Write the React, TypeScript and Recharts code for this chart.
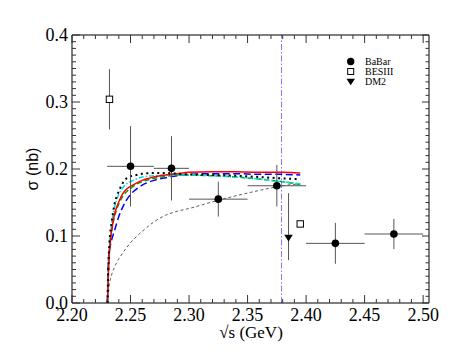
import React from 'react';
import {
  ComposedChart,
  Line,
  Scatter,
  XAxis,
  YAxis,
  ErrorBar,
} from 'recharts';

// ---------- data ----------
const curveX = [2.2303, 2.231, 2.232, 2.233, 2.234, 2.236, 2.238, 2.24, 2.243, 2.246, 2.25, 2.255, 2.26, 2.27, 2.28, 2.29, 2.3, 2.32, 2.34, 2.36, 2.38, 2.395];
const redCurve = [0, 0.04, 0.078, 0.097, 0.11, 0.13, 0.142, 0.151, 0.162, 0.169, 0.174, 0.179, 0.183, 0.188, 0.191, 0.193, 0.195, 0.196, 0.196, 0.195, 0.195, 0.194];
const greenCurve = [0, 0.04, 0.078, 0.096, 0.108, 0.127, 0.139, 0.148, 0.158, 0.165, 0.171, 0.177, 0.181, 0.186, 0.189, 0.191, 0.191, 0.19, 0.188, 0.185, 0.181, 0.177];
const cyanCurve = [0, 0.045, 0.085, 0.105, 0.12, 0.14, 0.153, 0.162, 0.171, 0.177, 0.181, 0.185, 0.188, 0.19, 0.191, 0.191, 0.191, 0.19, 0.188, 0.185, 0.181, 0.178];
const dottedCurve = [0, 0.05, 0.09, 0.11, 0.122, 0.145, 0.158, 0.167, 0.178, 0.185, 0.189, 0.191, 0.193, 0.194, 0.194, 0.193, 0.192, 0.191, 0.19, 0.188, 0.186, 0.185];
const blueCurve = [0, 0.06, 0.078, 0.088, 0.095, 0.106, 0.118, 0.129, 0.142, 0.152, 0.162, 0.17, 0.176, 0.183, 0.187, 0.19, 0.192, 0.193, 0.193, 0.192, 0.192, 0.191];
const thinCurve = [0, 0.012, 0.028, 0.037, 0.043, 0.052, 0.06, 0.066, 0.074, 0.081, 0.09, 0.099, 0.107, 0.121, 0.131, 0.137, 0.141, 0.151, 0.16, 0.168, 0.175, 0.178];

const babarX = [2.25, 2.285, 2.325, 2.375, 2.425, 2.475];
const babarY = [0.204, 0.201, 0.155, 0.175, 0.089, 0.103];
const babarEx = [0.02, 0.015, 0.025, 0.025, 0.025, 0.025];
const babarEy = [0.06, 0.048, 0.026, 0.031, 0.0305, 0.0225];

const besX = [2.232, 2.395];
const besY = [0.304, 0.118];
const besEy = [0.045, 0];

const dm2X = [2.385];
const dm2Y = [0.097];
const dm2EyLow = [0.033];
const dm2EyHigh = [0.067];

const thresholdX = [2.379, 2.379];
const thresholdY = [0, 0.4];

const xTicks = [2.2, 2.21, 2.22, 2.23, 2.24, 2.25, 2.26, 2.27, 2.28, 2.29, 2.3, 2.31, 2.32, 2.33, 2.34, 2.35, 2.36, 2.37, 2.38, 2.39, 2.4, 2.41, 2.42, 2.43, 2.44, 2.45, 2.46, 2.47, 2.48, 2.49, 2.5];
const xMajorLabels = ['2.20', '2.25', '2.30', '2.35', '2.40', '2.45', '2.50'];
const yTicks = [0, 0.01, 0.02, 0.03, 0.04, 0.05, 0.06, 0.07, 0.08, 0.09, 0.1, 0.11, 0.12, 0.13, 0.14, 0.15, 0.16, 0.17, 0.18, 0.19, 0.2, 0.21, 0.22, 0.23, 0.24, 0.25, 0.26, 0.27, 0.28, 0.29, 0.3, 0.31, 0.32, 0.33, 0.34, 0.35, 0.36, 0.37, 0.38, 0.39, 0.4];
const yMajorLabels = ['0.0', '0.1', '0.2', '0.3', '0.4'];

const legendItems = ['BaBar', 'BESIII', 'DM2'];

// ---------- built tables ----------
const curves = curveX.map((x, i) => ({
  x,
  red: redCurve[i],
  green: greenCurve[i],
  cyan: cyanCurve[i],
  dotted: dottedCurve[i],
  blue: blueCurve[i],
  thin: thinCurve[i],
}));
const threshold = thresholdX.map((x, i) => ({ x, t: thresholdY[i] }));
const babar = babarX.map((x, i) => ({ x, y: babarY[i], ex: babarEx[i], ey: babarEy[i] }));
const besiii = besX.map((x, i) => ({ x, y: besY[i], ey: besEy[i] }));
const dm2 = dm2X.map((x, i) => ({ x, y: dm2Y[i], ey: [dm2EyLow[i], dm2EyHigh[i]] }));

const W = 463;
const H = 358;
// plot area: x 72..429, y 35..303
const AX_BOTTOM_H = 30;
const AX_LEFT_W = 40;
const AX_TOP_H = 10;
const AX_RIGHT_W = 10;
const M = { top: 35 - AX_TOP_H, right: 34 - AX_RIGHT_W, bottom: 55 - AX_BOTTOM_H, left: 72 - AX_LEFT_W };
const SERIF = "'Liberation Serif', 'Times New Roman', Times, serif";
const SANS = "'Liberation Sans', Arial, Helvetica, sans-serif";
const TICK = '#333';
const serifStyle = (size: number): React.CSSProperties => ({ fontFamily: SERIF, fontSize: size });

const isXMajor = (v: number) => xMajorLabels.includes(v.toFixed(2));
const isYMajor = (v: number) => Math.abs(v * 10 - Math.round(v * 10)) < 1e-6;

const BottomTick = (p: any) => {
  const { x, y, payload } = p;
  const major = isXMajor(payload.value);
  return (
    <g>
      <line x1={x} x2={x} y1={y} y2={y - (major ? 8 : 4)} stroke={TICK} strokeWidth={1} />
      {major && (
        <text x={x} y={y + 17.5} textAnchor="middle" style={serifStyle(18)} fill="#000">
          {payload.value.toFixed(2)}
        </text>
      )}
    </g>
  );
};
const TopTick = (p: any) => {
  const { x, y, payload } = p;
  const major = isXMajor(payload.value);
  return <line x1={x} x2={x} y1={y} y2={y + (major ? 8 : 4)} stroke={TICK} strokeWidth={1} />;
};
const LeftTick = (p: any) => {
  const { x, y, payload } = p;
  const major = isYMajor(payload.value);
  const label = yMajorLabels.find((l) => Math.abs(parseFloat(l) - payload.value) < 1e-6);
  return (
    <g>
      <line x1={x} x2={x + (major ? 8 : 4)} y1={y} y2={y} stroke={TICK} strokeWidth={1} />
      {major && label && (
        <text x={x - 4} y={y + 5.8} textAnchor="end" style={serifStyle(18)} fill="#000">
          {label}
        </text>
      )}
    </g>
  );
};
const RightTick = (p: any) => {
  const { x, y, payload } = p;
  const major = isYMajor(payload.value);
  return <line x1={x} x2={x - (major ? 7 : 3.5)} y1={y} y2={y} stroke={TICK} strokeWidth={1} />;
};

const CircleShape = (p: any) => <circle cx={p.cx} cy={p.cy} r={3.8} fill="#000" />;
const SquareShape = (p: any) => (
  <rect x={p.cx - 3.2} y={p.cy - 3.2} width={6.4} height={6.4} fill="#fff" stroke="#000" strokeWidth={1} />
);
const TriangleShape = (p: any) => (
  <path d={`M${p.cx - 4.3},${p.cy - 3.3} L${p.cx + 4.3},${p.cy - 3.3} L${p.cx},${p.cy + 3.5} Z`} fill="#000" />
);

const axisCommon = {
  tickSize: 0,
  tickMargin: 0,
  interval: 0 as const,
  allowDataOverflow: true,
  tickLine: false,
  axisLine: { stroke: '#000', strokeWidth: 1 },
};

export default function App() {
  return (
    <div style={{ position: 'absolute', left: 0, top: 0, width: W, height: H, background: '#fff' }}>
      <ComposedChart width={W} height={H} margin={M}>
        <XAxis
          xAxisId={0}
          dataKey="x"
          type="number"
          domain={[2.2, 2.505]}
          ticks={xTicks}
          height={AX_BOTTOM_H}
          tick={BottomTick}
          {...axisCommon}
        />
        <XAxis
          xAxisId="top"
          orientation="top"
          dataKey="x"
          type="number"
          domain={[2.2, 2.505]}
          ticks={xTicks}
          height={AX_TOP_H}
          tick={TopTick}
          {...axisCommon}
        />
        <YAxis
          yAxisId={0}
          type="number"
          domain={[0, 0.4]}
          ticks={yTicks}
          width={AX_LEFT_W}
          tick={LeftTick}
          {...axisCommon}
        />
        <YAxis
          yAxisId="right"
          orientation="right"
          type="number"
          domain={[0, 0.4]}
          ticks={yTicks}
          width={AX_RIGHT_W}
          tick={RightTick}
          {...axisCommon}
        />

        <Line data={threshold} dataKey="t" type="linear" dot={false} stroke="#7a7aff" strokeWidth={1} strokeDasharray="6 2 1.5 2" isAnimationActive={false} />

        <Line data={curves} dataKey="thin" type="monotone" dot={false} stroke="#333" strokeWidth={0.8} strokeDasharray="3 2.5" isAnimationActive={false} />
        <Line data={curves} dataKey="blue" type="monotone" dot={false} stroke="#0000ff" strokeWidth={1.5} strokeDasharray="7 3.5" isAnimationActive={false} />
        <Line data={curves} dataKey="green" type="monotone" dot={false} stroke="#00a000" strokeWidth={1.5} strokeDasharray="5 3" isAnimationActive={false} />
        <Line data={curves} dataKey="cyan" type="monotone" dot={false} stroke="#00e0e0" strokeWidth={1.5} strokeDasharray="5 2 1.5 2" isAnimationActive={false} />
        <Line data={curves} dataKey="red" type="monotone" dot={false} stroke="#ff0000" strokeWidth={1.5} isAnimationActive={false} />
        <Line data={curves} dataKey="dotted" type="monotone" dot={false} stroke="#000" strokeWidth={2} strokeDasharray="2 3.5" isAnimationActive={false} />

        <Scatter data={babar} dataKey="y" name="BaBar" shape={CircleShape} isAnimationActive={false}>
          <ErrorBar dataKey="ex" direction="x" width={0} stroke="#555" strokeWidth={1} />
          <ErrorBar dataKey="ey" direction="y" width={0} stroke="#555" strokeWidth={1} />
        </Scatter>
        <Scatter data={besiii} dataKey="y" name="BESIII" shape={SquareShape} isAnimationActive={false}>
          <ErrorBar dataKey="ey" direction="y" width={0} stroke="#555" strokeWidth={1} />
        </Scatter>
        <Scatter data={dm2} dataKey="y" name="DM2" shape={TriangleShape} isAnimationActive={false}>
          <ErrorBar dataKey="ey" direction="y" width={0} stroke="#555" strokeWidth={1} />
        </Scatter>
      </ComposedChart>

      <svg width={W} height={H} style={{ position: 'absolute', left: 0, top: 0, pointerEvents: 'none' }}>
        <text
          x={38}
          y={169}
          transform="rotate(-90 38 169)"
          textAnchor="middle"
          style={{ fontFamily: SANS, fontSize: 16 }}
          fill="#000"
        >
          σ (nb)
        </text>
        <text x={251} y={338} textAnchor="middle" style={serifStyle(17)} fill="#000">
          √s (GeV)
        </text>
        <g>
          <circle cx={350.7} cy={61.5} r={3.7} fill="#000" />
          <rect x={347.7} y={68.5} width={6} height={6} fill="#fff" stroke="#000" strokeWidth={1} />
          <path d="M346.5,78.8 L355,78.8 L350.7,85.3 Z" fill="#000" />
          {legendItems.map((t, i) => (
            <text key={t} x={365} y={65 + i * 10.2} style={serifStyle(10)} fill="#000">
              {t}
            </text>
          ))}
        </g>
      </svg>
    </div>
  );
}
